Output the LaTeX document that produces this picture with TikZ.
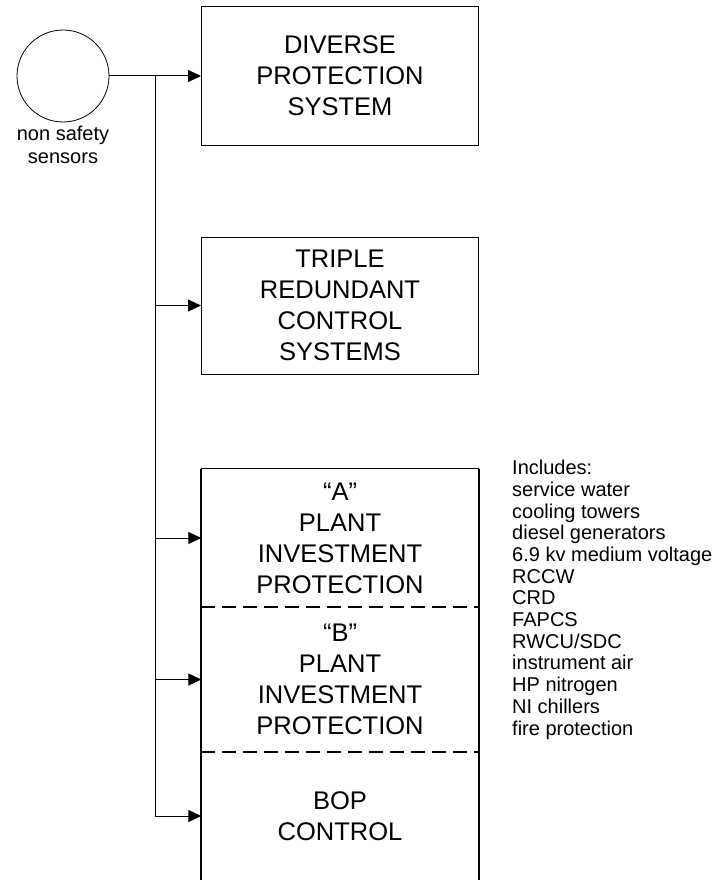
\documentclass[tikz,border=0pt]{standalone}
\usepackage{fontspec}
\setmainfont{Liberation Sans}
\usetikzlibrary{arrows.meta}
\begin{document}
\begin{tikzpicture}[x=1pt, y=-1pt,
		box/.style={draw, line width=1pt, minimum width=277pt, minimum height=138pt, inner sep=0pt, align=center, font=\fontsize{25.5}{31}\selectfont},
		part/.style={minimum width=277pt, inner sep=0pt, align=center, font=\fontsize{25.5}{31}\selectfont},
		sensor/.style={circle, draw, line width=0.8pt, minimum size=92pt, inner sep=0pt},
		arr/.style={-{Triangle[length=13pt, width=12pt]}, line width=1pt},
		frame/.style={line width=1.8pt},
		sep/.style={line width=2pt, dash pattern=on 14pt off 7pt}]
	\useasboundingbox (0,0) rectangle (723,880);
	\node[sensor] (sns) at (63,76) {};
	\node[anchor=base, align=center, font=\fontsize{20}{23}\selectfont] (snslbl) at (63,163) {non safety\\sensors};
	\node[box] (dps) at (340,76) {DIVERSE\\PROTECTION\\SYSTEM};
	\node[box, minimum height=137pt] (trcs) at (340,305.5) {TRIPLE\\REDUNDANT\\CONTROL\\SYSTEMS};
	\node[part, minimum height=138pt] (pipA) at (340,538) {“A”\\PLANT\\INVESTMENT\\PROTECTION};
	\node[part, minimum height=145pt] (pipB) at (340,679.5) {“B”\\PLANT\\INVESTMENT\\PROTECTION};
	\node[part, minimum height=128pt] (bop) at (340,816) {BOP\\CONTROL};
	\draw[frame] (bop.south west) -- (pipA.north west);
	\draw[line width=1pt] (pipA.north west) -- (pipA.north east);
	\draw[frame] (pipA.north east) -- (bop.south east);
	\draw[sep] (pipA.south west) -- (pipA.south east);
	\draw[sep] (pipB.south west) -- (pipB.south east);
	\node[anchor=base west, align=left, inner sep=0pt, font=\fontsize{20}{21.7}\selectfont] (incl) at (512,735)
		{Includes:\\service water\\cooling towers\\diesel generators\\6.9 kv medium voltage\\RCCW\\CRD\\FAPCS\\RWCU/SDC\\instrument air\\HP nitrogen\\NI chillers\\fire protection};
	\coordinate (jn) at (155,76);
	\draw[arr] (sns) -- (dps);
	\draw[line width=1pt] (jn) -- (jn |- bop.west);
	\foreach \n in {trcs,pipA,pipB,bop} {
		\draw[arr] (jn |- \n.west) -- (\n.west);
		}
\end{tikzpicture}
\end{document}
